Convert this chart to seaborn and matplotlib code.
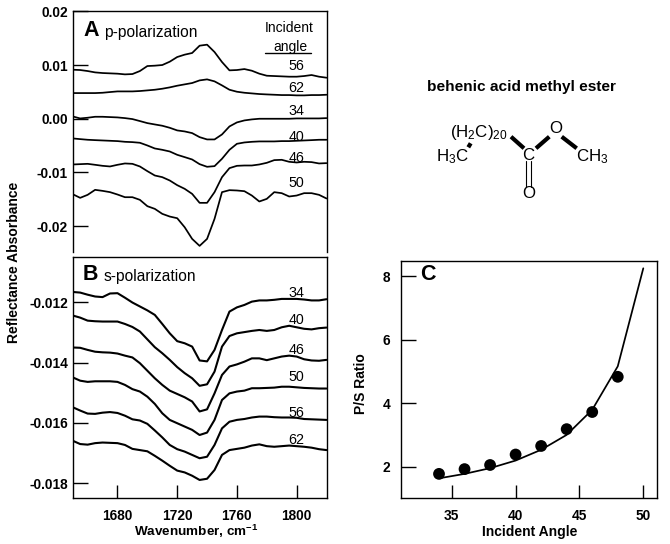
import numpy as np
import matplotlib
matplotlib.use("Agg")
import matplotlib.pyplot as plt
from matplotlib.lines import Line2D
import seaborn as sns

sns.set_theme(style="white")
plt.rcParams.update({
    "font.family": ["Liberation Sans", "DejaVu Sans"],
    "axes.unicode_minus": False,
    "mathtext.fontset": "custom",
    "mathtext.rm": "Liberation Sans",
    "mathtext.bf": "Liberation Sans:bold",
    "mathtext.default": "rm",
    "axes.edgecolor": "black",
    "axes.linewidth": 1.0,
    "text.color": "black",
    "axes.labelcolor": "black",
    "xtick.color": "black",
    "ytick.color": "black",
})

# Wavenumber grid, cm-1
wavenumber = np.arange(1650, 1821, 5)

# Panel A: p-polarization, absorbance x 10^-3
p_56 = [9.13, 9.07, 8.88, 8.63, 8.51, 8.45, 8.39, 8.26, 8.32, 8.88, 9.81, 9.88, 10.0, 10.62, 11.49, 11.93, 12.24, 13.6, 13.79, 12.42, 10.56, 9.01, 9.07, 9.25, 8.94, 8.39, 8.01, 7.95, 7.89, 7.83, 7.83, 7.95, 8.14, 7.83, 7.64]
p_62 = [4.78, 4.78, 4.78, 4.78, 4.84, 4.97, 5.09, 5.09, 5.09, 5.16, 5.28, 5.40, 5.59, 5.84, 6.15, 6.40, 6.65, 7.14, 7.33, 6.96, 6.21, 5.40, 5.03, 4.84, 4.72, 4.60, 4.53, 4.47, 4.41, 4.41, 4.35, 4.35, 4.41, 4.41, 4.47]
p_34 = [0.43, 0.06, 0.19, 0.37, 0.37, 0.31, 0.25, 0.12, -0.06, -0.43, -0.81, -1.06, -1.30, -1.68, -2.17, -2.36, -2.67, -3.42, -3.85, -3.85, -2.92, -1.43, -0.68, -0.31, -0.12, 0.0, 0.0, 0.0, 0.0, 0.0, 0.06, 0.06, 0.06, 0.06, 0.12]
p_40 = [-3.66, -3.79, -3.91, -3.98, -4.04, -4.10, -4.16, -4.29, -4.35, -4.47, -4.97, -5.53, -5.78, -6.09, -6.71, -7.14, -7.58, -8.45, -8.94, -8.82, -7.45, -5.78, -4.66, -4.41, -4.29, -4.22, -4.22, -4.22, -4.16, -4.16, -4.10, -4.04, -3.98, -3.91, -3.91]
p_46 = [-8.51, -8.45, -8.39, -8.57, -8.76, -8.88, -8.57, -8.32, -8.39, -8.88, -9.75, -10.56, -10.87, -11.49, -12.36, -13.04, -13.98, -15.65, -15.65, -13.66, -10.87, -9.19, -8.76, -8.70, -8.70, -8.51, -8.20, -7.70, -7.64, -8.01, -8.14, -8.01, -8.07, -8.32, -8.26]
p_50 = [-14.04, -14.72, -14.16, -13.23, -13.42, -13.66, -14.10, -14.60, -14.60, -15.09, -16.27, -16.77, -17.70, -18.20, -18.51, -20.19, -22.36, -23.66, -22.36, -18.63, -13.66, -13.29, -13.35, -13.48, -14.29, -15.40, -14.91, -13.66, -13.85, -14.47, -14.29, -13.85, -13.85, -14.16, -14.84]

# Panel B: s-polarization, absorbance x 10^-3
s_34 = [-11.66, -11.68, -11.75, -11.81, -11.83, -11.71, -11.70, -11.85, -12.01, -12.14, -12.27, -12.42, -12.72, -13.03, -13.29, -13.36, -13.47, -13.93, -13.96, -13.58, -12.92, -12.31, -12.17, -12.09, -11.98, -11.94, -11.94, -11.92, -11.89, -11.89, -11.89, -11.91, -11.94, -11.94, -11.90]
s_40 = [-12.44, -12.51, -12.61, -12.63, -12.64, -12.64, -12.64, -12.72, -12.82, -12.97, -13.23, -13.49, -13.69, -13.91, -14.15, -14.35, -14.52, -14.77, -14.72, -14.30, -13.47, -13.12, -13.03, -12.99, -12.95, -12.92, -12.95, -12.92, -12.83, -12.78, -12.83, -12.88, -12.90, -12.86, -12.84]
s_46 = [-13.50, -13.51, -13.58, -13.64, -13.66, -13.67, -13.70, -13.77, -13.83, -14.02, -14.27, -14.52, -14.74, -14.93, -15.04, -15.15, -15.29, -15.62, -15.55, -15.02, -14.41, -14.13, -14.06, -13.97, -13.86, -13.86, -13.92, -13.86, -13.80, -13.77, -13.80, -13.89, -13.93, -13.94, -13.91]
s_50 = [-14.49, -14.60, -14.64, -14.62, -14.62, -14.62, -14.64, -14.74, -14.88, -14.96, -15.13, -15.37, -15.68, -15.90, -16.01, -16.12, -16.23, -16.40, -16.32, -15.90, -15.24, -15.02, -14.96, -14.93, -14.85, -14.85, -14.84, -14.83, -14.80, -14.80, -14.82, -14.84, -14.85, -14.86, -14.86]
s_56 = [-15.48, -15.59, -15.69, -15.70, -15.66, -15.64, -15.67, -15.76, -15.88, -15.92, -16.03, -16.25, -16.48, -16.73, -16.87, -16.95, -17.06, -17.17, -17.12, -16.73, -16.18, -15.96, -15.90, -15.87, -15.82, -15.79, -15.79, -15.81, -15.82, -15.82, -15.83, -15.87, -15.88, -15.89, -15.90]
s_62 = [-16.59, -16.70, -16.72, -16.67, -16.65, -16.66, -16.67, -16.73, -16.86, -16.90, -16.94, -17.09, -17.25, -17.42, -17.58, -17.64, -17.75, -17.89, -17.85, -17.56, -17.06, -16.90, -16.86, -16.82, -16.75, -16.71, -16.77, -16.79, -16.77, -16.75, -16.77, -16.79, -16.82, -16.87, -16.90]

# Panel C
angle_points = [34, 36, 38, 40, 42, 44, 46, 48]
ratio_points = [1.77, 1.92, 2.05, 2.38, 2.65, 3.18, 3.72, 4.83]
angle_curve = [34, 36, 38, 40, 42, 44, 46, 48, 50]
ratio_curve = [1.63, 1.77, 1.95, 2.19, 2.53, 3.0, 3.79, 5.16, 8.25]

# Labels
a_series = [p_56, p_62, p_34, p_40, p_46, p_50]
a_names = ["56", "62", "34", "40", "46", "50"]
a_name_y = [0.0099, 0.00565, 0.00136, -0.00343, -0.00734, -0.01193]
b_series = [s_34, s_40, s_46, s_50, s_56, s_62]
b_names = ["34", "40", "46", "50", "56", "62"]
b_name_y = [-0.0117, -0.0126, -0.01358, -0.01449, -0.01566, -0.01656]
a_ticks = [0.02, 0.01, 0.0, -0.01, -0.02]
a_ticklabels = ["0.02", "0.01", "0.00", "-0.01", "-0.02"]
b_ticks = [-0.012, -0.014, -0.016, -0.018]
b_ticklabels = ["-0.012", "-0.014", "-0.016", "-0.018"]
wn_ticks = [1680, 1720, 1760, 1800]
c_xticks = [35, 40, 45, 50]
c_yticks = [2, 4, 6, 8]

W, H = 670, 544
fig = plt.figure(figsize=(W / 100, H / 100), dpi=100, facecolor="white")


def panel(l, t, r, b):
    return fig.add_axes([l / W, 1 - b / H, (r - l) / W, (b - t) / H])


ax_a = panel(72.7, 11.3, 326.5, 252)
ax_b = panel(72.7, 256.7, 326.5, 498.3)
ax_c = panel(400.7, 260.7, 656.7, 498.3)
ov = fig.add_axes([0, 0, 1, 1], zorder=5)
ov.set_xlim(0, W)
ov.set_ylim(H, 0)
ov.axis("off")

TICK_FS = 9.9
LABEL_FS = 10.0

for vals in a_series:
    sns.lineplot(x=wavenumber, y=np.array(vals) * 1e-3, ax=ax_a, color="black",
                 lw=1.25, errorbar=None, legend=False)
for vals in b_series:
    sns.lineplot(x=wavenumber, y=np.array(vals) * 1e-3, ax=ax_b, color="black",
                 lw=1.5, errorbar=None, legend=False)

sns.lineplot(x=angle_curve, y=ratio_curve, ax=ax_c, color="black", lw=1.25,
             errorbar=None, legend=False)
sns.scatterplot(x=angle_points, y=ratio_points, ax=ax_c, color="black", s=72,
                edgecolor="none", legend=False, zorder=3)

# Panel A
ax_a.set_xlim(1650, 1820)
ax_a.set_ylim(-0.0248, 0.02)
ax_a.spines["bottom"].set_visible(False)
ax_a.set_xticks([])
ax_a.set_yticks(a_ticks, a_ticklabels)
for n, y in zip(a_names, a_name_y):
    ax_a.text(1800, y, n, ha="center", va="center", fontsize=10.3)

# Panel B
ax_b.set_xlim(1650, 1820)
ax_b.set_ylim(-0.018498, -0.010491)
ax_b.set_xticks(wn_ticks, [str(v) for v in wn_ticks])
ax_b.set_yticks(b_ticks, b_ticklabels)
for n, y in zip(b_names, b_name_y):
    ax_b.text(1800, y, n, ha="center", va="center", fontsize=10.3)

# Panel C
ax_c.set_xlim(31, 51.05)
ax_c.set_ylim(1.0, 8.49)
ax_c.set_xticks(c_xticks, [str(v) for v in c_xticks])
ax_c.set_yticks(c_yticks, [str(v) for v in c_yticks])

for ax, ypad in [(ax_a, 3.4), (ax_b, 3.4), (ax_c, 7.5)]:
    ax.tick_params(axis="y", direction="in", length=10.8, width=1.0, pad=ypad,
                   left=True, labelsize=TICK_FS)
    ax.tick_params(axis="x", direction="in", length=9.4, width=1.0, pad=7.5,
                   bottom=True, labelsize=TICK_FS)
    for lab in ax.get_xticklabels() + ax.get_yticklabels():
        lab.set_fontweight("bold")

ax_b.set_xlabel("Wavenumber, cm$^{\\mathbf{-1}}$", fontsize=9.7,
                fontweight="bold", va="center", ha="center")
ax_b.xaxis.set_label_coords(196, 531, transform=ov.transData)
ax_c.set_xlabel("Incident Angle", fontsize=LABEL_FS, fontweight="bold", va="center", ha="center")
ax_c.xaxis.set_label_coords(530, 531.7, transform=ov.transData)
ax_c.set_ylabel("P/S Ratio", fontsize=LABEL_FS, fontweight="bold", va="center", ha="center")
ax_c.yaxis.set_label_coords(361, 384, transform=ov.transData)
ax_b.set_ylabel("Reflectance Absorbance", fontsize=LABEL_FS, fontweight="bold",
                va="center", ha="center")
ax_b.yaxis.set_label_coords(14, 262, transform=ov.transData)

# Panel annotations
ov.text(83, 31, "A", fontsize=15.5, fontweight="bold", ha="left", va="center")
ov.text(104, 32.5, "p-polarization", fontsize=11.2, ha="left", va="center")
ov.text(289, 28, "Incident", fontsize=10, ha="center", va="center")
ov.text(290, 46.5, "angle", fontsize=10, ha="center", va="center")
ov.add_line(Line2D([265, 310.7], [53, 53], color="black", lw=1.0))
ov.text(83, 274.5, "B", fontsize=15.5, fontweight="bold", ha="left", va="center")
ov.text(104, 276.5, "s-polarization", fontsize=11.2, ha="left", va="center")
ov.text(420, 274, "C", fontsize=15.5, fontweight="bold", ha="left", va="center")

# Molecule
ov.text(521.7, 87.3, "behenic acid methyl ester", fontsize=11.1, fontweight="bold",
        ha="center", va="center")
ov.text(450, 132, "(H$_2$C)$_{20}$", fontsize=12.2, ha="left", va="center")
ov.text(436.5, 156.5, "H$_3$C", fontsize=12.2, ha="left", va="center")
ov.text(528.3, 155.5, "C", fontsize=12.2, ha="center", va="center")
ov.text(556, 128.3, "O", fontsize=12.2, ha="center", va="center")
ov.text(529, 193.3, "O", fontsize=12.2, ha="center", va="center")
ov.text(576, 156.5, "CH$_3$", fontsize=12.2, ha="left", va="center")
bonds = [([468.3, 470.7], [147.3, 143.3]), ([511, 524], [136.7, 148.3]),
         ([536, 549.3], [148.3, 136.7]), ([561.7, 576.7], [136.7, 148.3])]
for xs, ys in bonds:
    ov.add_line(Line2D(xs, ys, color="black", lw=3.0, solid_capstyle="butt"))
for x in (526.2, 530.7):
    ov.add_line(Line2D([x, x], [161, 186.5], color="black", lw=0.8))

fig.savefig("out.png", dpi=100, facecolor="white")
